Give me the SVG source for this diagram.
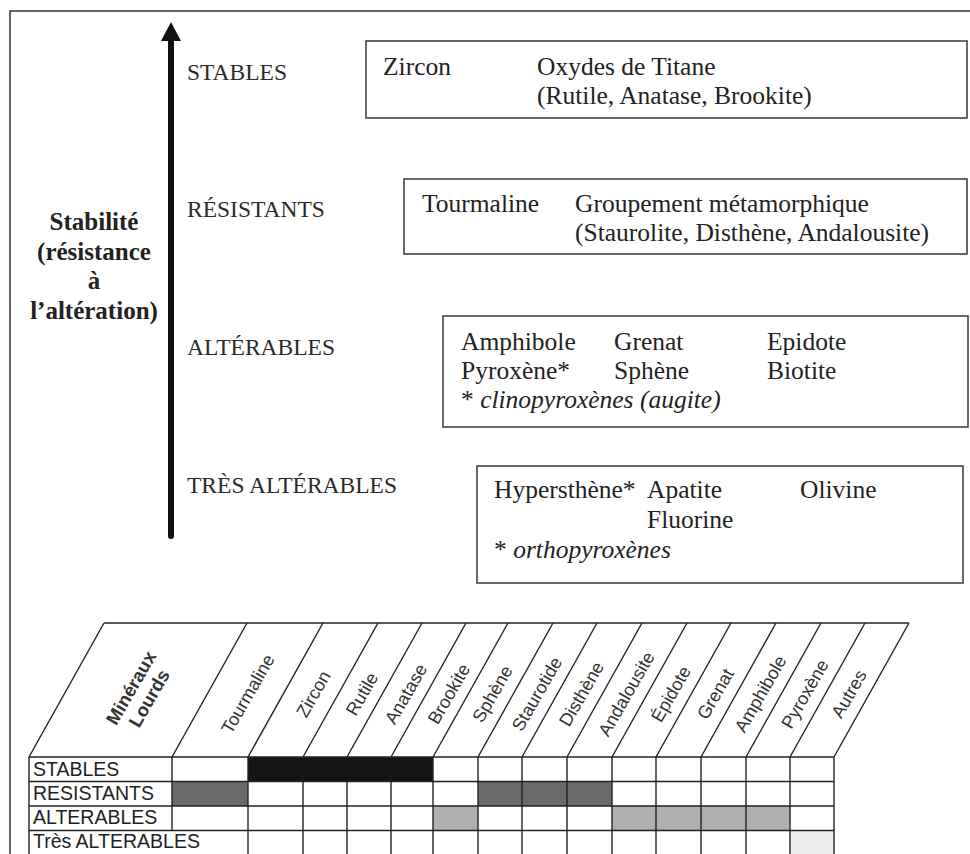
<svg xmlns="http://www.w3.org/2000/svg" width="970" height="854" viewBox="0 0 970 854">
<style>
.frame{fill:none;stroke:#333;stroke-width:1.5}
.box{fill:none;stroke:#444;stroke-width:1.6}
.lbl{font-family:"Liberation Serif","Times New Roman",serif;font-size:23.5px;fill:#2a2a2a}
.bt{font-family:"Liberation Serif","Times New Roman",serif;font-size:25.5px;fill:#222}
.it{font-style:italic}
.bold{font-family:"Liberation Serif","Times New Roman",serif;font-size:25px;font-weight:bold;fill:#222}
.grid{stroke:#222;stroke-width:1.4;fill:none}
.hd{font-family:"Liberation Sans",Arial,sans-serif;font-size:18px;fill:#333}
.hdb{font-family:"Liberation Sans",Arial,sans-serif;font-size:18.5px;font-weight:bold;fill:#333}
.row{font-family:"Liberation Sans",Arial,sans-serif;font-size:19.5px;fill:#222}
</style>
<rect width="970" height="854" fill="#fff"/>
<path class="frame" d="M10,854 V11 H970"/>

<g id="connectors">
  <line x1="171" y1="36" x2="171" y2="536" stroke="#111" stroke-width="6" stroke-linecap="round"/>
  <polygon points="171,22 161,41 181,41" fill="#111"/>
</g>

<g id="axis-title">
  <text class="bold" text-anchor="middle" x="94" y="230">Stabilité</text>
  <text class="bold" text-anchor="middle" x="94" y="259.5">(résistance</text>
  <text class="bold" text-anchor="middle" x="94" y="289">à</text>
  <text class="bold" text-anchor="middle" x="94" y="318.5">l’altération)</text>
</g>

<g id="levels">
  <text class="lbl" x="187" y="80">STABLES</text>
  <text class="lbl" x="187" y="217">RÉSISTANTS</text>
  <text class="lbl" x="187" y="355">ALTÉRABLES</text>
  <text class="lbl" x="187" y="493">TRÈS ALTÉRABLES</text>
</g>

<g id="box-stables">
  <rect class="box" x="366" y="41" width="601" height="77"/>
  <text class="bt" x="383" y="75">Zircon</text>
  <text class="bt" x="537" y="75">Oxydes de Titane</text>
  <text class="bt" x="537" y="104">(Rutile, Anatase, Brookite)</text>
</g>

<g id="box-resistants">
  <rect class="box" x="404" y="179" width="563" height="75"/>
  <text class="bt" x="422" y="212">Tourmaline</text>
  <text class="bt" x="575" y="212">Groupement métamorphique</text>
  <text class="bt" x="575" y="241">(Staurolite, Disthène, Andalousite)</text>
</g>

<g id="box-alterables">
  <rect class="box" x="443" y="316" width="525" height="111"/>
  <text class="bt" x="461" y="350">Amphibole</text>
  <text class="bt" x="614" y="350">Grenat</text>
  <text class="bt" x="767" y="350">Epidote</text>
  <text class="bt" x="461" y="379">Pyroxène*</text>
  <text class="bt" x="614" y="379">Sphène</text>
  <text class="bt" x="767" y="379">Biotite</text>
  <text class="bt" x="461" y="408">* <tspan class="it">clinopyroxènes (augite)</tspan></text>
</g>

<g id="box-tres-alterables">
  <rect class="box" x="477" y="466" width="486" height="117"/>
  <text class="bt" x="494" y="498">Hypersthène*</text>
  <text class="bt" x="647" y="498">Apatite</text>
  <text class="bt" x="800" y="498">Olivine</text>
  <text class="bt" x="647" y="528">Fluorine</text>
  <text class="bt" x="494" y="558">* <tspan class="it">orthopyroxènes</tspan></text>
</g>

<g id="table">
  <rect x="248" y="757" width="185" height="24.5" fill="#141414"/>
  <rect x="172" y="781.5" width="76" height="24.5" fill="#6a6a6a"/>
  <rect x="478" y="781.5" width="134" height="24.5" fill="#6a6a6a"/>
  <rect x="433" y="806" width="45" height="24.5" fill="#b0b0b0"/>
  <rect x="612" y="806" width="178" height="24.5" fill="#b0b0b0"/>
  <rect x="790" y="830.5" width="44" height="24" fill="#eeeeee"/>
  <g class="grid">
    <line x1="104" y1="623" x2="909" y2="623"/>
    <line x1="29" y1="757" x2="104" y2="623"/>
    <line x1="172" y1="757" x2="247" y2="623"/>
    <line x1="248" y1="757" x2="323" y2="623"/>
    <line x1="303" y1="757" x2="378" y2="623"/>
    <line x1="347" y1="757" x2="422" y2="623"/>
    <line x1="391" y1="757" x2="466" y2="623"/>
    <line x1="433" y1="757" x2="508" y2="623"/>
    <line x1="478" y1="757" x2="553" y2="623"/>
    <line x1="522" y1="757" x2="597" y2="623"/>
    <line x1="567" y1="757" x2="642" y2="623"/>
    <line x1="612" y1="757" x2="687" y2="623"/>
    <line x1="656" y1="757" x2="731" y2="623"/>
    <line x1="701" y1="757" x2="776" y2="623"/>
    <line x1="746" y1="757" x2="821" y2="623"/>
    <line x1="790" y1="757" x2="865" y2="623"/>
    <line x1="834" y1="757" x2="909" y2="623"/>
    <line x1="29" y1="757" x2="834" y2="757"/>
    <line x1="29" y1="781.5" x2="834" y2="781.5"/>
    <line x1="29" y1="806" x2="834" y2="806"/>
    <line x1="29" y1="830.5" x2="834" y2="830.5"/>
    <line x1="29" y1="757" x2="29" y2="854"/>
    <line x1="172" y1="757" x2="172" y2="830.5"/>
    <line x1="248" y1="757" x2="248" y2="854"/>
    <line x1="303" y1="781.5" x2="303" y2="854"/>
    <line x1="347" y1="781.5" x2="347" y2="854"/>
    <line x1="391" y1="781.5" x2="391" y2="854"/>
    <line x1="433" y1="757" x2="433" y2="854"/>
    <line x1="478" y1="757" x2="478" y2="854"/>
    <line x1="522" y1="757" x2="522" y2="854"/>
    <line x1="567" y1="757" x2="567" y2="854"/>
    <line x1="612" y1="757" x2="612" y2="854"/>
    <line x1="656" y1="757" x2="656" y2="854"/>
    <line x1="701" y1="757" x2="701" y2="854"/>
    <line x1="746" y1="757" x2="746" y2="854"/>
    <line x1="790" y1="757" x2="790" y2="854"/>
    <line x1="834" y1="757" x2="834" y2="854"/>
  </g>
  <g transform="translate(140,693) rotate(-60)">
    <text class="hdb" text-anchor="middle" x="0" y="-4">Minéraux</text>
    <text class="hdb" text-anchor="middle" x="0" y="17">Lourds</text>
  </g>
  <text class="hd" text-anchor="middle" transform="translate(248,694) rotate(-60)" y="6">Tourmaline</text>
  <text class="hd" text-anchor="middle" transform="translate(313.5,694) rotate(-60)" y="6">Zircon</text>
  <text class="hd" text-anchor="middle" transform="translate(362,694) rotate(-60)" y="6">Rutile</text>
  <text class="hd" text-anchor="middle" transform="translate(406,694) rotate(-60)" y="6">Anatase</text>
  <text class="hd" text-anchor="middle" transform="translate(449,694) rotate(-60)" y="6">Brookite</text>
  <text class="hd" text-anchor="middle" transform="translate(492.5,694) rotate(-60)" y="6">Sphène</text>
  <text class="hd" text-anchor="middle" transform="translate(537,694) rotate(-60)" y="6">Staurotide</text>
  <text class="hd" text-anchor="middle" transform="translate(581.5,694) rotate(-60)" y="6">Disthène</text>
  <text class="hd" text-anchor="middle" transform="translate(626.5,694) rotate(-60)" y="6">Andalousite</text>
  <text class="hd" text-anchor="middle" transform="translate(671,694) rotate(-60)" y="6">Épidote</text>
  <text class="hd" text-anchor="middle" transform="translate(715.5,694) rotate(-60)" y="6">Grenat</text>
  <text class="hd" text-anchor="middle" transform="translate(760.5,694) rotate(-60)" y="6">Amphibole</text>
  <text class="hd" text-anchor="middle" transform="translate(805,694) rotate(-60)" y="6">Pyroxène</text>
  <text class="hd" text-anchor="middle" transform="translate(849,694) rotate(-60)" y="6">Autres</text>
  <text class="row" x="33" y="776">STABLES</text>
  <text class="row" x="33" y="800">RESISTANTS</text>
  <text class="row" x="33" y="824">ALTERABLES</text>
  <text class="row" x="33" y="848">Très ALTERABLES</text>
</g>
</svg>
